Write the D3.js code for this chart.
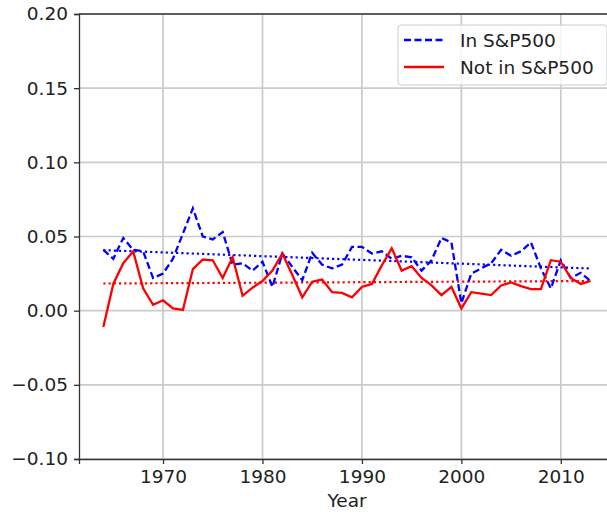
<!DOCTYPE html>
<html>
<head>
<meta charset="utf-8">
<script src="https://cdn.jsdelivr.net/npm/d3@7"></script>
<style>
  body { margin: 0; background: #fff; }
  svg text { font-family: "DejaVu Sans", sans-serif; fill: #222; }
</style>
</head>
<body>
<svg id="chart" width="607" height="514"></svg>
<script>
// data
var years = d3.range(1964, 2014);
var inSP = [0.041, 0.035, 0.049, 0.041, 0.040, 0.022, 0.025, 0.035, 0.052, 0.069,
            0.050, 0.048, 0.053, 0.031, 0.032, 0.027, 0.033, 0.016, 0.0385, 0.0295,
            0.0205, 0.039, 0.031, 0.0285, 0.031, 0.043, 0.043, 0.0385, 0.040, 0.035,
            0.037, 0.036, 0.027, 0.034, 0.049, 0.046, 0.005, 0.025, 0.0285, 0.032,
            0.041, 0.037, 0.040, 0.046, 0.0285, 0.015, 0.034, 0.022, 0.0255, 0.020];
var notInSP = [-0.011, 0.018, 0.032, 0.040, 0.015, 0.004, 0.007, 0.0015, 0.0005, 0.028,
               0.0345, 0.034, 0.022, 0.036, 0.010, 0.0155, 0.020, 0.027, 0.0385, 0.024,
               0.009, 0.0195, 0.021, 0.0125, 0.012, 0.009, 0.016, 0.018, 0.0305, 0.042,
               0.027, 0.030, 0.022, 0.017, 0.0105, 0.016, 0.0015, 0.0125, 0.0115, 0.0105,
               0.017, 0.019, 0.0165, 0.0145, 0.0145, 0.034, 0.033, 0.022, 0.018, 0.020];
// trend line end values (first year, last year)
var trendIn = [0.0408, 0.0284];
var trendNot = [0.0183, 0.0200];
var yTicks = [-0.10, -0.05, 0.00, 0.05, 0.10, 0.15, 0.20];
var xTicks = [1970, 1980, 1990, 2000, 2010];
var seriesNames = ["In S&P500", "Not in S&P500"];

var svg = d3.select("#chart");

var x = d3.scaleLinear()
  .domain([1961.55, 2015.45])
  .range([79, 615]);
var y = d3.scaleLinear()
  .domain([-0.10, 0.20])
  .range([459, 14]);

// grid
svg.append("g")
  .selectAll("line")
  .data(xTicks)
  .enter()
  .append("line")
  .attr("x1", function (d) { return x(d); })
  .attr("x2", function (d) { return x(d); })
  .attr("y1", y(0.20))
  .attr("y2", y(-0.10))
  .attr("stroke", "#cbcbcb")
  .attr("stroke-width", 1.7);
svg.append("g")
  .selectAll("line")
  .data(yTicks)
  .enter()
  .append("line")
  .attr("x1", x.range()[0])
  .attr("x2", x.range()[1])
  .attr("y1", function (d) { return y(d); })
  .attr("y2", function (d) { return y(d); })
  .attr("stroke", "#cbcbcb")
  .attr("stroke-width", 1.7);

// trend lines
var tx = [years[0], years[years.length - 1]];
svg.append("line")
  .attr("x1", x(tx[0])).attr("x2", x(tx[1]))
  .attr("y1", y(trendIn[0])).attr("y2", y(trendIn[1]))
  .attr("stroke", "#0000ff")
  .attr("stroke-width", 2.2)
  .attr("stroke-dasharray", "2.2,3");
svg.append("line")
  .attr("x1", x(tx[0])).attr("x2", x(tx[1]))
  .attr("y1", y(trendNot[0])).attr("y2", y(trendNot[1]))
  .attr("stroke", "#ff0000")
  .attr("stroke-width", 2.2)
  .attr("stroke-dasharray", "2.2,3");

var line = d3.line()
  .x(function (d, i) { return x(years[i]); })
  .y(function (d) { return y(d); });

svg.append("path")
  .datum(inSP)
  .attr("d", line)
  .attr("fill", "none")
  .attr("stroke", "#0000ff")
  .attr("stroke-width", 2.3)
  .attr("stroke-dasharray", "7,3.5");

svg.append("path")
  .datum(notInSP)
  .attr("d", line)
  .attr("fill", "none")
  .attr("stroke", "#ff0000")
  .attr("stroke-width", 2.3);

// axes
var xAxis = svg.append("g")
  .attr("transform", "translate(0,459)")
  .call(d3.axisBottom(x).tickValues(xTicks).tickFormat(d3.format("d")).tickSize(5).tickPadding(6));
var yAxis = svg.append("g")
  .attr("transform", "translate(79,0)")
  .call(d3.axisLeft(y).tickValues(yTicks).tickFormat(d3.format(".2f")).tickSize(5).tickPadding(6));
[xAxis, yAxis].forEach(function (g) {
  g.select(".domain").attr("stroke", "#333").attr("stroke-width", 1.3);
  g.selectAll(".tick line").attr("stroke", "#333").attr("stroke-width", 1.3);
  g.selectAll("text").style("font-size", "18.5px").attr("fill", "#222");
});
// top spine
svg.append("line")
  .attr("x1", 79).attr("x2", 615)
  .attr("y1", 14).attr("y2", 14)
  .attr("stroke", "#333").attr("stroke-width", 1.3);

svg.append("text")
  .attr("x", x(1988.5))
  .attr("y", 507)
  .attr("text-anchor", "middle")
  .style("font-size", "18.5px")
  .text("Year");

// legend
var legend = svg.append("g");
legend.append("rect")
  .attr("x", 398).attr("y", 25)
  .attr("width", 209).attr("height", 60)
  .attr("rx", 3)
  .attr("fill", "#fff").attr("fill-opacity", 0.8)
  .attr("stroke", "#cccccc");
var styles = [{ c: "#0000ff", dash: "7,3.5" }, { c: "#ff0000", dash: null }];
seriesNames.forEach(function (name, i) {
  var ly = 40 + i * 27;
  legend.append("line")
    .attr("x1", 404).attr("x2", 444)
    .attr("y1", ly).attr("y2", ly)
    .attr("stroke", styles[i].c)
    .attr("stroke-width", 2.3)
    .attr("stroke-dasharray", styles[i].dash);
  legend.append("text")
    .attr("x", 460).attr("y", ly + 6.5)
    .style("font-size", "18.5px")
    .text(name);
});
</script>
</body>
</html>
